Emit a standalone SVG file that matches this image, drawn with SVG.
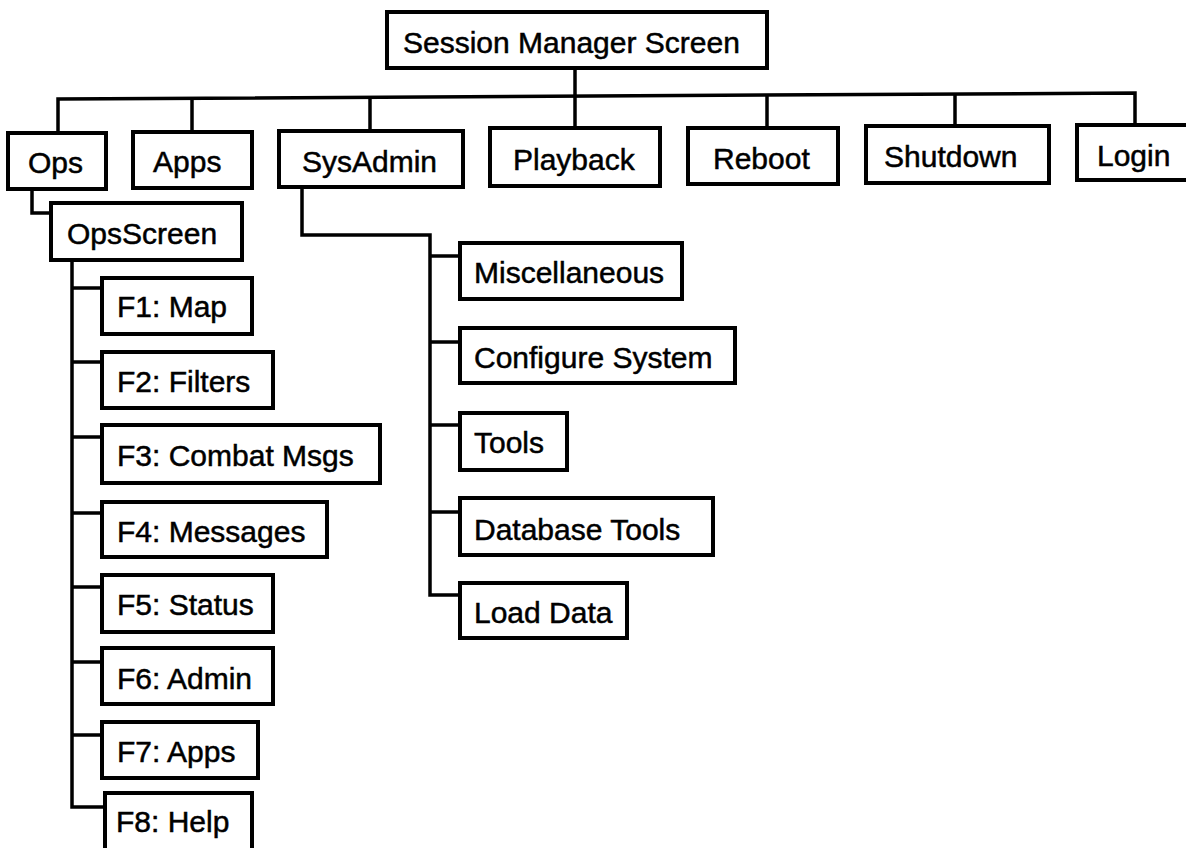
<svg xmlns="http://www.w3.org/2000/svg" width="1186" height="848" viewBox="0 0 1186 848">
<style>
.box{fill:#fff;stroke:#000;stroke-width:4}
.t{font-family:"Liberation Sans",Arial,sans-serif;font-size:30px;fill:#000;stroke:#000;stroke-width:0.5}
.c{fill:none;stroke:#000;stroke-width:3.5;stroke-linejoin:miter}
</style>
<rect width="1186" height="848" fill="#fff"/>
<g id="connectors">
<path class="c" d="M575,68 V128"/>
<path class="c" d="M58,133 V99 L1135,93 V125"/>
<path class="c" d="M192,99 V132"/>
<path class="c" d="M370,98 V131"/>
<path class="c" d="M767,96 V128"/>
<path class="c" d="M955,94 V126"/>
<path class="c" d="M32,189 V213 H51"/>
<path class="c" d="M72,260 V807 H105"/>
<path class="c" d="M72,288 H102 M72,362 H102 M72,437 H102 M72,513 H102 M72,587 H102 M72,662 H102 M72,735 H102"/>
<path class="c" d="M302,187 V235 H430 V595 H460"/>
<path class="c" d="M430,256 H460 M430,342 H460 M430,425 H460 M430,512 H460"/>
</g>
<g id="session"><rect class="box" x="387" y="12" width="380" height="56"/><text class="t" x="403" y="53">Session Manager Screen</text></g>
<g id="ops"><rect class="box" x="8" y="133" width="98" height="56"/><text class="t" x="28" y="173">Ops</text></g>
<g id="apps"><rect class="box" x="133" y="132" width="119" height="56"/><text class="t" x="153" y="172">Apps</text></g>
<g id="sysadmin"><rect class="box" x="279" y="131" width="184" height="56"/><text class="t" x="302" y="172">SysAdmin</text></g>
<g id="playback"><rect class="box" x="490" y="128" width="170" height="58"/><text class="t" x="513" y="170">Playback</text></g>
<g id="reboot"><rect class="box" x="688" y="128" width="150" height="56"/><text class="t" x="713" y="169">Reboot</text></g>
<g id="shutdown"><rect class="box" x="866" y="126" width="183" height="57"/><text class="t" x="884" y="167">Shutdown</text></g>
<g id="login"><rect class="box" x="1077" y="125" width="130" height="55"/><text class="t" x="1097" y="166">Login</text></g>
<g id="opsscreen"><rect class="box" x="51" y="203" width="191" height="57"/><text class="t" x="67" y="244">OpsScreen</text></g>
<g id="f1"><rect class="box" x="102" y="278" width="150" height="56"/><text class="t" x="117" y="317">F1: Map</text></g>
<g id="f2"><rect class="box" x="102" y="352" width="171" height="56"/><text class="t" x="117" y="392">F2: Filters</text></g>
<g id="f3"><rect class="box" x="102" y="425" width="278" height="58"/><text class="t" x="117" y="466">F3: Combat Msgs</text></g>
<g id="f4"><rect class="box" x="102" y="502" width="225" height="55"/><text class="t" x="117" y="542">F4: Messages</text></g>
<g id="f5"><rect class="box" x="102" y="575" width="171" height="57"/><text class="t" x="117" y="615">F5: Status</text></g>
<g id="f6"><rect class="box" x="102" y="648" width="171" height="56"/><text class="t" x="117" y="689">F6: Admin</text></g>
<g id="f7"><rect class="box" x="102" y="722" width="156" height="56"/><text class="t" x="117" y="762">F7: Apps</text></g>
<g id="f8"><rect class="box" x="105" y="793" width="147" height="60"/><text class="t" x="116" y="832">F8: Help</text></g>
<g id="misc"><rect class="box" x="460" y="243" width="222" height="56"/><text class="t" x="474" y="283">Miscellaneous</text></g>
<g id="configure"><rect class="box" x="460" y="328" width="275" height="55"/><text class="t" x="474" y="368">Configure System</text></g>
<g id="tools"><rect class="box" x="460" y="413" width="107" height="57"/><text class="t" x="474" y="453">Tools</text></g>
<g id="dbtools"><rect class="box" x="460" y="498" width="253" height="57"/><text class="t" x="474" y="540">Database Tools</text></g>
<g id="loaddata"><rect class="box" x="460" y="583" width="167" height="55"/><text class="t" x="474" y="623">Load Data</text></g>
</svg>
